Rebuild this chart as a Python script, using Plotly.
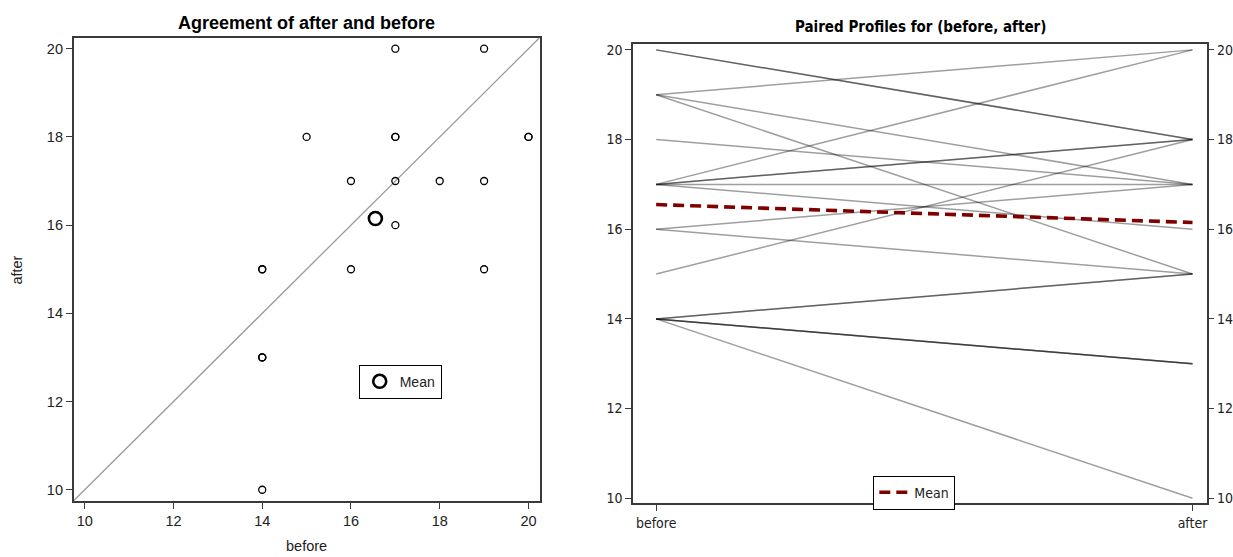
import plotly.graph_objects as go

# Paired observations (one entry per subject)
before = [20, 20, 19, 19, 19, 18, 17, 17, 17, 17, 17, 16, 16, 15, 14, 14, 14, 14, 14, 14]
after = [18, 18, 20, 17, 15, 17, 20, 18, 18, 17, 16, 17, 15, 18, 15, 15, 13, 13, 13, 10]

mean_before = sum(before) / len(before)
mean_after = sum(after) / len(after)

y_ticks = [10, 12, 14, 16, 18, 20]
x_ticks = [10, 12, 14, 16, 18, 20]
profile_labels = ["before", "after"]

W, H = 1233, 557


def px_x(a, b):
    return [a / W, b / W]


def px_y(top, bottom):
    return [1 - bottom / H, 1 - top / H]


FRAME = "#3a3a3a"
SANS = "Liberation Sans, Arial, sans-serif"
NARROW = "Liberation Sans Narrow, Arial Narrow, DejaVu Sans Condensed, Liberation Sans, sans-serif"
LEFT_FONT = dict(family=SANS, size=14.5, color="#222")
RIGHT_FONT = dict(family=NARROW, size=14, color="#222")

fig = go.Figure()

# ---- Agreement plot ----
fig.add_trace(go.Scatter(
    x=before, y=after, mode="markers", xaxis="x", yaxis="y",
    marker=dict(symbol="circle-open", size=7, color="black", line=dict(width=1.3, color="black")),
    showlegend=False, hoverinfo="x+y"))
fig.add_trace(go.Scatter(
    x=[mean_before], y=[mean_after], mode="markers", xaxis="x", yaxis="y",
    name="Mean", legend="legend",
    marker=dict(symbol="circle-open", size=13, color="black", line=dict(width=2.6, color="black"))))

agree_range = [9.75, 20.25]
fig.add_shape(type="line", xref="x", yref="y",
              x0=agree_range[0], y0=agree_range[0], x1=agree_range[1], y1=agree_range[1],
              line=dict(color="#9a9a9a", width=1.3), layer="below")

# ---- Paired profiles ----
for b, a in zip(before, after):
    fig.add_trace(go.Scatter(
        x=[0, 1], y=[b, a], mode="lines", xaxis="x2", yaxis="y2",
        line=dict(color="rgba(0,0,0,0.38)", width=1.5), showlegend=False, hoverinfo="y"))
fig.add_trace(go.Scatter(
    x=[0, 1], y=[mean_before, mean_after], mode="lines", xaxis="x2", yaxis="y2",
    name="Mean", legend="legend2",
    line=dict(color="#800000", width=3.6, dash="11px,6px")))
# invisible trace to carry the right-hand tick labels
fig.add_trace(go.Scatter(x=[0], y=[15], mode="markers", xaxis="x2", yaxis="y3",
                         marker=dict(opacity=0), showlegend=False, hoverinfo="skip"))

prof_yrange = [9.89, 20.124]
prof_xrange = [-0.0428, 1.0276]

axis_common = dict(showline=True, linecolor=FRAME, linewidth=1.5, mirror=True,
                   ticks="outside", ticklen=6, tickcolor=FRAME, tickwidth=1.3,
                   showgrid=False, zeroline=False, fixedrange=True)

fig.update_layout(
    width=W, height=H,
    margin=dict(l=0, r=0, t=0, b=0),
    paper_bgcolor="white", plot_bgcolor="white",
    xaxis=dict(domain=px_x(73.7, 540), range=agree_range, tickvals=x_ticks,
               tickfont=LEFT_FONT, anchor="y", **axis_common),
    yaxis=dict(domain=px_y(36, 503.3), range=agree_range, tickvals=y_ticks,
               tickfont=LEFT_FONT, anchor="x", **axis_common),
    xaxis2=dict(domain=px_x(633.7, 1208.3), range=prof_xrange, tickvals=[0, 1],
                ticktext=profile_labels, tickfont=RIGHT_FONT, anchor="y2", **axis_common),
    yaxis2=dict(domain=px_y(42.7, 505.7), range=prof_yrange, tickvals=y_ticks,
                tickfont=RIGHT_FONT, anchor="x2", **axis_common),
    yaxis3=dict(range=prof_yrange, tickvals=y_ticks, tickfont=RIGHT_FONT,
                overlaying="y2", side="right", anchor="x2",
                showline=False, ticks="outside", ticklen=6, tickcolor=FRAME, tickwidth=1.3,
                showgrid=False, zeroline=False, fixedrange=True),
    legend=dict(x=359 / W, y=1 - 366 / H, xanchor="left", yanchor="top",
                bordercolor="black", borderwidth=1, bgcolor="white",
                font=dict(family=SANS, size=14, color="#222"),
                itemwidth=30, tracegroupgap=0),
    legend2=dict(x=874 / W, y=1 - 478 / H, xanchor="left", yanchor="top",
                 bordercolor="black", borderwidth=1, bgcolor="white",
                 font=dict(family=NARROW, size=14, color="#222"),
                 itemwidth=30, tracegroupgap=0),
    annotations=[
        dict(text="<b>Agreement of after and before</b>", x=307 / W, y=1 - 21 / H,
             xref="paper", yref="paper", showarrow=False, xanchor="center", yanchor="middle",
             font=dict(family=SANS, size=18, color="black")),
        dict(text="<b>Paired Profiles for (before, after)</b>", x=921 / W, y=1 - 25 / H,
             xref="paper", yref="paper", showarrow=False, xanchor="center", yanchor="middle",
             font=dict(family=NARROW, size=15, color="black")),
        dict(text="before", x=307 / W, y=1 - 549 / H, xref="paper", yref="paper",
             showarrow=False, xanchor="center", yanchor="middle", font=LEFT_FONT),
        dict(text="after", x=17 / W, y=1 - 270 / H, xref="paper", yref="paper", textangle=-90,
             showarrow=False, xanchor="center", yanchor="middle", font=LEFT_FONT),
    ],
)

fig.write_html("out.html")
